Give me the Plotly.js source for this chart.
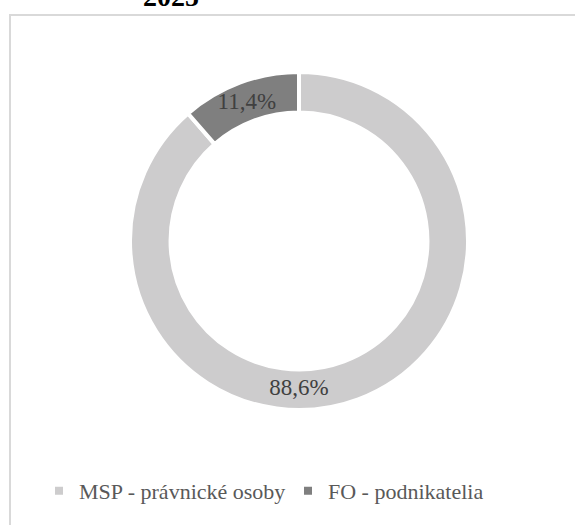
<!DOCTYPE html>
<html>
<head>
<meta charset="utf-8">
<script src="https://cdn.plot.ly/plotly-3.0.1.min.js"></script>
<style>
html,body{margin:0;padding:0;background:#fff;overflow:hidden;}
#frame{position:absolute;left:9px;top:14px;width:700px;height:700px;border:2px solid #d9d9d9;box-sizing:border-box;}
#chart{position:absolute;left:0;top:0;width:575px;height:525px;}
</style>
</head>
<body>
<div id="frame"></div>
<div id="chart"></div>
<script>
const categories = ['MSP - právnické osoby', 'FO - podnikatelia'];
const values = [88.6, 11.4];
const valueLabels = ['88,6%', '11,4%'];
const colors = ['#cdcccd', '#7f7f7f'];
const titleText = '2025';

const W = 575, H = 525;
const cx = 299, cy = 241, R = 169;
const serif = 'Liberation Serif';

const trace = {
  type: 'pie',
  labels: categories,
  values: values,
  text: valueLabels,
  textinfo: 'text',
  hoverinfo: 'label+text',
  hole: 0.76,
  sort: false,
  direction: 'clockwise',
  rotation: 0,
  textposition: 'inside',
  insidetextorientation: 'horizontal',
  marker: {colors: colors, line: {color: '#ffffff', width: 4}},
  textfont: {family: serif, size: 23, color: '#404040'},
  domain: {
    x: [(cx - R) / W, (cx + R) / W],
    y: [(H - cy - R) / H, (H - cy + R) / H]
  }
};

const layout = {
  width: W, height: H,
  margin: {l: 0, r: 0, t: 0, b: 0},
  paper_bgcolor: 'rgba(0,0,0,0)',
  plot_bgcolor: 'rgba(0,0,0,0)',
  showlegend: true,
  font: {family: serif},
  uniformtext: {minsize: 23, mode: 'show'},
  title: {
    text: '<b>' + titleText + '</b>',
    font: {family: serif, size: 28, color: '#000000'},
    x: 171 / W, xanchor: 'center',
    yref: 'container', y: 1 - 6 / H, yanchor: 'bottom'
  },
  legend: {
    orientation: 'h',
    x: 39 / W, xanchor: 'left',
    y: (H - 491) / H, yanchor: 'middle',
    font: {family: serif, size: 22, color: '#595959'},
    bgcolor: 'rgba(0,0,0,0)',
    traceorder: 'normal',
    entrywidth: 204,
    entrywidthmode: 'pixels',
    itemclick: false
  }
};

Plotly.newPlot('chart', [trace], layout, {displayModeBar: false, staticPlot: true});
</script>
</body>
</html>
